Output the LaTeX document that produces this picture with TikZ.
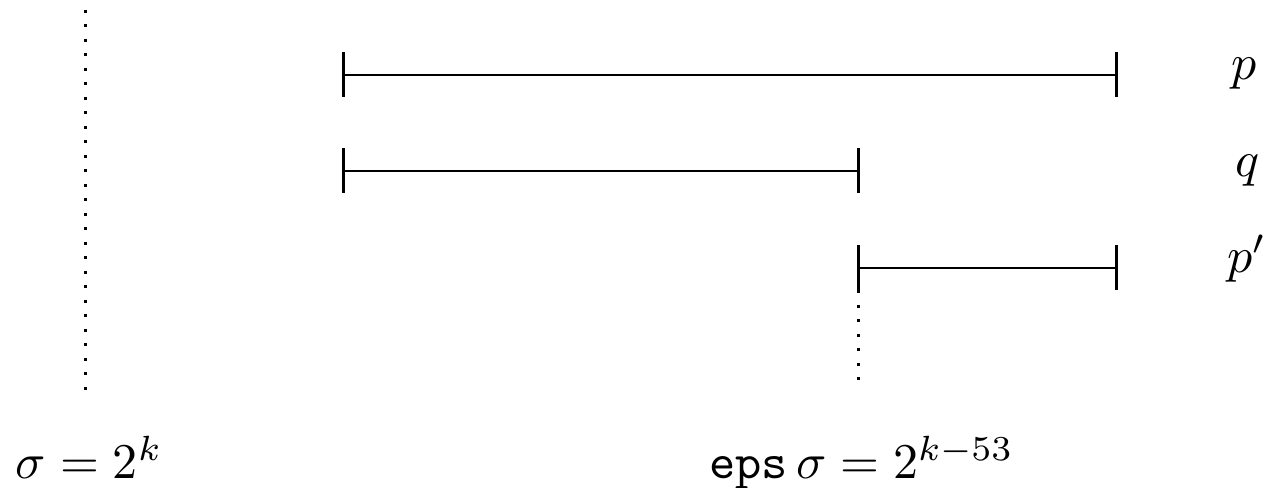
\documentclass[tikz,border=0pt]{standalone}
\begin{document}
\begin{tikzpicture}[x=0.2pt,y=-0.2pt,
  seg/.style={line width=0.45pt},
  tick/.style={line width=0.6pt},
  dotline/.style={line width=0.6pt,dash pattern=on 0.6pt off 2.3pt},
  lbl/.style={inner sep=0pt,anchor=base west}]
\useasboundingbox (0,0) rectangle (1267,488);
% coordinates
\coordinate (pa) at (343,75);
\coordinate (pb) at (1116,75);
\coordinate (qa) at (343,171);
\coordinate (qb) at (858,171);
\coordinate (ra) at (858,268);
\coordinate (rb) at (1116,268);
\coordinate (la) at (85,10);
\coordinate (lb) at (85,392);
\coordinate (ea) at (858,268);
\coordinate (eb) at (858,390);
% segments
\draw[seg] (pa) -- (pb);
\draw[seg] (qa) -- (qb);
\draw[seg] (ra) -- (rb);
\foreach \c in {pa,pb,qa,qb,ra,rb}
  \draw[tick] ([yshift=4.5pt]\c) -- ([yshift=-4.5pt]\c);
% dotted lines
\draw[dotline] (la) -- (lb);
\draw[dotline] ([yshift=-4.5pt]ea) -- (eb);
% labels
\node[lbl] (lp) at (1230,80) {$p$};
\node[lbl] (lq) at (1234,177) {$q$};
\node[lbl] (lpp) at (1226,273) {$p'$};
\node[lbl] (ls) at (15,479) {$\sigma=2^k$};
\node[lbl] (le) at (708,479) {$\texttt{eps}\,\sigma=2^{k-53}$};
\end{tikzpicture}
\end{document}
